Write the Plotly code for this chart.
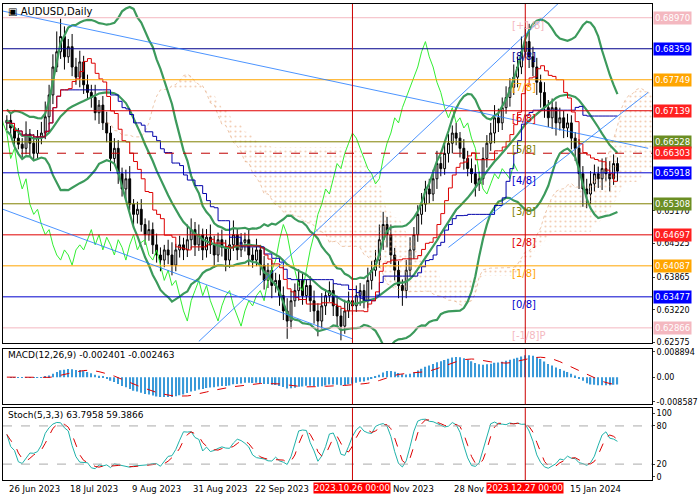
import plotly.graph_objects as go
import pandas as pd
import numpy as np

closes_pips = [6695,6680,6660,6648,6640,6668,6650,6630,6662,6670,
6702,6745,6800,6830,6860,6820,6840,6800,6780,6810,
6765,6750,6740,6710,6725,6690,6670,6620,6640,6590,
6560,6580,6530,6510,6520,6490,6470,6480,6450,6430,
6420,6440,6430,6410,6440,6450,6440,6460,6480,6450,
6470,6440,6465,6450,6430,6460,6445,6420,6450,6470,
6440,6455,6460,6430,6420,6440,6410,6380,6400,6370,
6380,6350,6320,6300,6340,6360,6380,6350,6370,6340,
6320,6300,6330,6350,6360,6330,6310,6290,6320,6340,
6330,6350,6360,6340,6380,6400,6420,6460,6490,6470,
6430,6400,6370,6360,6400,6440,6470,6510,6530,6560,
6550,6580,6610,6600,6630,6650,6670,6660,6640,6620,
6600,6590,6570,6580,6620,6650,6670,6700,6690,6720,
6740,6760,6780,6800,6830,6850,6820,6800,6770,6750,
6720,6700,6720,6690,6700,6680,6690,6660,6640,6590,
6560,6550,6570,6590,6580,6600,6590,6580,6610,6595]
open0 = 6690
upper_wick = [10,15,8,20,12,25,10,18,14,22,
30,20,25,40,35,20,15,25,18,22,
12,20,15,25,10,18,22,14,20,16,
12,18,25,10,15,20,12,18,14,22,
15,10,20,25,12,18,14,30,22,15,
20,12,16,25,18,14,20,15,22,28,
12,18,14,20,15,22,10,18,14,20,
15,12,18,25,20,14,22,16,12,18,
20,15,25,12,18,14,20,15,22,18,
14,20,15,12,25,18,20,30,25,15,
20,14,18,12,20,25,15,18,22,16,
20,18,25,14,22,18,15,20,12,18,
15,20,18,14,22,16,20,25,18,20,
22,18,25,20,30,28,35,20,18,15,
20,15,18,12,20,14,18,15,12,18,
15,20,25,18,14,20,22,25,18,12]
lower_wick = [15,12,20,10,18,12,25,15,10,14,
12,15,18,10,14,25,12,18,15,20,
18,12,20,15,22,14,18,25,12,20,
15,20,12,25,18,14,20,12,18,15,
22,14,18,20,12,15,20,14,18,22,
12,20,15,18,25,14,18,22,15,12,
20,14,18,22,15,12,20,18,15,25,
14,20,18,35,15,12,20,18,14,22,
25,30,15,18,12,20,22,28,15,14,
18,12,20,15,14,18,12,15,20,25,
18,20,25,30,15,12,18,14,20,15,
18,14,20,15,12,18,20,14,18,22,
15,18,25,14,12,18,15,20,18,14,
12,18,15,20,14,12,22,18,25,30,
20,18,22,25,15,20,18,22,25,30,
35,28,20,15,18,22,15,25,12,20]

tick_pos = [0, 16, 32, 48, 64, 100, 116, 146]
tick_text = ["26 Jun 2023","18 Jul 2023","9 Aug 2023","31 Aug 2023","22 Sep 2023","Nov 2023","28 Nov 2023","15 Jan 2024"]
vlines = [90, 135]
vline_labels = ["2023.10.26 00:00", "2023.12.27 00:00"]

murrey_vals = [0.68970,0.68359,0.67749,0.67139,0.66528,0.65918,0.65308,0.64697,0.64087,0.63477,0.62866]
murrey_names = ["[+1/8]","[8/8]","[7/8]","[6/8]","[5/8]","[4/8]","[3/8]","[2/8]","[1/8]","[0/8]","[-1/8]P"]
murrey_colors = ["#f4b8c0","#00008b","#ffa500","#e00000","#808000","#0000cd","#808000","#e00000","#ffa500","#0000cd","#f4b8c0"]
label_bg = ["#f4b8c0","#0000ff","#ffa500","#ff2020","#6b8e23","#0000ff","#6b8e23","#ff2020","#ffa500","#0000ff","#f4b8c0"]
dash_level = 0.66303
axis_ticks = [0.62575,0.63220,0.63865,0.64525,0.65170]
trend_lines = [(-1,0.6910,167,0.6640),(-1,0.6520,90,0.6265),(50,0.6260,145,0.6935),(115,0.6445,167,0.6750)]

closes = np.array(closes_pips)/10000
n = len(closes)
idx = np.arange(n)
opens = np.concatenate([[open0/10000], closes[:-1]])
highs = np.maximum(opens, closes) + np.array(upper_wick)/10000
lows = np.minimum(opens, closes) - np.array(lower_wick)/10000

s = pd.Series(closes); hs = pd.Series(highs); ls = pd.Series(lows)
ma = s.rolling(20, min_periods=1).mean(); sd = s.rolling(20, min_periods=2).std().bfill()
bb_up = ma + 2*sd; bb_lo = ma - 2*sd
tenkan = (hs.rolling(9,min_periods=1).max()+ls.rolling(9,min_periods=1).min())/2
kijun = (hs.rolling(26,min_periods=1).max()+ls.rolling(26,min_periods=1).min())/2
spanA = (tenkan+kijun)/2
spanB = (hs.rolling(52,min_periods=1).max()+ls.rolling(52,min_periods=1).min())/2
ema12 = s.ewm(span=12).mean(); ema26 = s.ewm(span=26).mean()
macd = ema12-ema26; sig = macd.rolling(9,min_periods=1).mean()
ll = ls.rolling(5,min_periods=1).min(); hh = hs.rolling(5,min_periods=1).max()
k = (100*(s-ll)/(hh-ll)).rolling(3,min_periods=1).mean()
dline = k.rolling(3,min_periods=1).mean()

fig = go.Figure()
cx = idx + 26
fig.add_trace(go.Scatter(x=cx, y=spanB, mode='lines', line=dict(color='rgba(0,0,0,0)'), hoverinfo='skip'))
fig.add_trace(go.Scatter(x=cx, y=spanA, mode='lines', line=dict(color='#e0a070', width=0.6, dash='dot'), fill='tonexty',
                         fillcolor='rgba(0,0,0,0)', fillpattern=dict(shape='.', fgcolor='#e6a070', size=5, solidity=0.15)))
for i,(v,c) in enumerate(zip(murrey_vals, murrey_colors)):
    fig.add_shape(type='line', xref='x', yref='y', x0=-1, x1=168, y0=v, y1=v, line=dict(color=c, width=1))
    fig.add_annotation(x=131, y=v, xref='x', yref='y', text=murrey_names[i], showarrow=False, font=dict(color=c, size=10), xanchor='left', yanchor='top')
fig.add_shape(type='line', xref='x', yref='y', x0=-1, x1=168, y0=dash_level, y1=dash_level, line=dict(color='#c00000', width=1, dash='dash'))
for (a,b,c,d) in trend_lines:
    fig.add_shape(type='line', xref='x', yref='y', x0=a, y0=b, x1=c, y1=d, line=dict(color='#1e78ff', width=0.8))
fig.add_trace(go.Scatter(x=idx-26, y=closes, mode='lines', line=dict(color='#33ee33', width=1)))
fig.add_trace(go.Scatter(x=idx, y=bb_up, mode='lines', line=dict(color='#3c9a5c', width=2.2)))
fig.add_trace(go.Scatter(x=idx, y=bb_lo, mode='lines', line=dict(color='#3c9a5c', width=2.2)))
fig.add_trace(go.Scatter(x=idx, y=ma, mode='lines', line=dict(color='#3c9a5c', width=2.2)))
fig.add_trace(go.Scatter(x=idx, y=kijun, mode='lines', line=dict(color='#0000aa', width=1, shape='hv')))
fig.add_trace(go.Scatter(x=idx, y=tenkan, mode='lines', line=dict(color='#dd0000', width=1, shape='hv')))
fig.add_trace(go.Candlestick(x=idx, open=opens, high=highs, low=lows, close=closes,
    increasing=dict(line=dict(color='black', width=1), fillcolor='white'),
    decreasing=dict(line=dict(color='black', width=1), fillcolor='black'), whiskerwidth=0))
fig.add_trace(go.Bar(x=idx, y=macd, marker=dict(color='#3a9ad9', line=dict(width=0)), width=0.35, yaxis='y2', xaxis='x2'))
fig.add_trace(go.Scatter(x=idx, y=sig, mode='lines', line=dict(color='#dd0000', width=1, dash='dash'), yaxis='y2', xaxis='x2'))
fig.add_trace(go.Scatter(x=idx, y=k, mode='lines', line=dict(color='#20b2aa', width=1), yaxis='y3', xaxis='x3'))
fig.add_trace(go.Scatter(x=idx, y=dline, mode='lines', line=dict(color='#dd0000', width=1, dash='dash'), yaxis='y3', xaxis='x3'))
for lv in [20,80]:
    fig.add_shape(type='line', xref='x3', yref='y3', x0=-1, x1=168, y0=lv, y1=lv, line=dict(color='#aaaaaa', width=1, dash='dash'))
for xa in ['x','x2','x3']:
    ya = {'x':'y','x2':'y2','x3':'y3'}[xa]
    for v in vlines:
        fig.add_shape(type='line', xref=xa, yref=ya+' domain', x0=v, x1=v, y0=0, y1=1, line=dict(color='#cc0000', width=1))
for p,t in zip(tick_pos, tick_text):
    fig.add_annotation(x=p, y=-0.004, xref='x3', yref='paper', text=t, showarrow=False, xanchor='left', yanchor='top', font=dict(size=8.5))
for v,t in zip(vlines, vline_labels):
    fig.add_annotation(x=v, y=-0.004, xref='x3', yref='paper', text=t, showarrow=False, bgcolor='#ff0000',
                       font=dict(color='white', size=8.5), yanchor='top', borderpad=0)
for v,bg in zip(murrey_vals, label_bg):
    fig.add_annotation(x=1.002, y=v, xref='paper', yref='y', text=f"{v:.5f}", showarrow=False, xanchor='left',
                       bgcolor=bg, font=dict(color='white', size=8.5), borderpad=1)
fig.add_annotation(x=1.002, y=dash_level, xref='paper', yref='y', text=f"{dash_level:.5f}", showarrow=False, xanchor='left',
                   bgcolor='#ff2020', font=dict(color='white', size=8.5), borderpad=1)
fig.add_annotation(x=0.005, y=1, xref='paper', yref='paper', text="▣ AUDUSD,Daily", showarrow=False, xanchor='left', yanchor='top', font=dict(size=10, color='black'))
fig.add_annotation(x=0.005, y=0.278, xref='paper', yref='paper', text="MACD(12,26,9) -0.002401 -0.002463", showarrow=False, xanchor='left', yanchor='top', font=dict(size=9, color='black'))
fig.add_annotation(x=0.005, y=0.152, xref='paper', yref='paper', text="Stoch(5,3,3) 63.7958 59.3866", showarrow=False, xanchor='left', yanchor='top', font=dict(size=9, color='black'))

ax = dict(range=[-1,168], showgrid=False, zeroline=False, showline=True, linecolor='black', mirror=True, rangeslider=dict(visible=False), showticklabels=False)
yax = dict(side='right', showgrid=False, zeroline=False, showline=True, linecolor='black', mirror=True, ticks='outside', ticklen=2, tickfont=dict(size=8))
fig.update_layout(
    width=700, height=500, margin=dict(l=2, r=48, t=2, b=20), paper_bgcolor='white', plot_bgcolor='white',
    showlegend=False, font=dict(family='DejaVu Sans', size=10, color='black'),
    xaxis=dict(**ax, domain=[0,1], anchor='y'),
    xaxis2=dict(**ax, domain=[0,1], anchor='y2', matches='x'),
    xaxis3=dict(**ax, domain=[0,1], anchor='y3', matches='x'),
    yaxis=dict(**yax, domain=[0.288,1], range=[0.6257,0.6924], tickvals=axis_ticks, tickformat='.5f'),
    yaxis2=dict(**yax, domain=[0.159,0.275], range=[-0.0095,0.0098], tickvals=[-0.008587,0,0.008894], ticktext=['-0.008587','0.00','0.008894']),
    yaxis3=dict(**yax, domain=[0,0.151], range=[-5,108], tickvals=[0,20,80,100]),
)
fig.write_html("out.html", config={'displayModeBar': False}, post_script="document.body.style.margin='0';document.body.style.overflow='hidden';")
